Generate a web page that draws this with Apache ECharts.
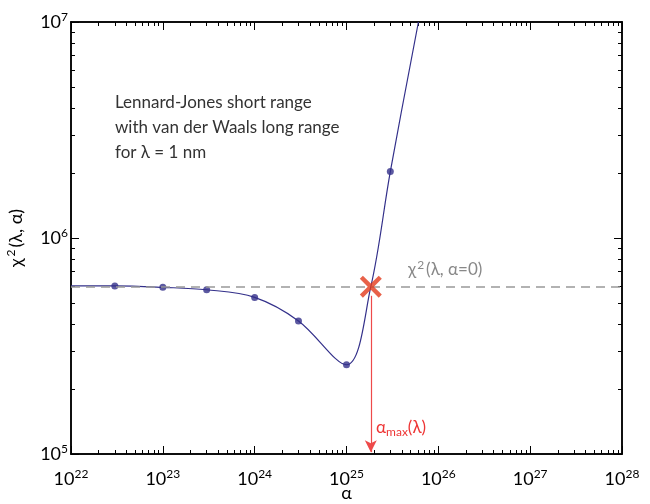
<!DOCTYPE html>
<html>
<head>
<meta charset="utf-8">
<script src="https://cdn.jsdelivr.net/npm/echarts@6/dist/echarts.min.js"></script>
<style>
  html, body { margin: 0; padding: 0; background: #fff; }
  #chart { width: 650px; height: 504px; }
</style>
</head>
<body>
<div id="chart"></div>
<script>
// measured points
const alphaPts = [3e22, 1e23, 3e23, 1e24, 3e24, 1e25, 3e25]
const chi2Pts = [6.0e5, 5.91e5, 5.76e5, 5.31e5, 4.13e5, 2.59e5, 2.03e6]
// fitted curve
const curveAlpha = [1e22, 3e22, 1e23, 3e23, 1e24, 3e24, 1e25, 1.84e25, 3e25, 6.07e25]
const curveChi2 = [6.0e5, 6.0e5, 5.91e5, 5.76e5, 5.31e5, 4.13e5, 2.59e5, 5.95e5, 2.03e6, 1e7]
// reference level and limit
const chi2Zero = 5.95e5
const alphaMax = 1.84e25

// decades of the axes
const xDecades = [22, 23, 24, 25, 26, 27]
const yDecades = [5, 6]

// minor ticks 2..9 inside every decade
function minorTicks(decades) {
  let out = []
  decades.forEach(e => {
    for (let m = 2; m <= 9; m++) out.push(m * Math.pow(10, e))
  })
  return out
}

const FONT = 'Lato'
const navy = '#33308a'
const expLabel = v => '10{sup|' + Math.round(Math.log10(v)) + '}'
const tickRich = {
  sup: { fontSize: 12, fontFamily: FONT, color: '#000', verticalAlign: 'bottom', padding: [0, 0, 10, 0] }
}

function axisBase(extra) {
  return Object.assign({
    type: 'log',
    logBase: 10,
    axisLine: { show: true, onZero: false, lineStyle: { color: '#000', width: 1.5 } },
    axisTick: { show: true, inside: true, length: 8, lineStyle: { color: '#000', width: 1 } },
    minorTick: { show: false },
    splitLine: { show: false },
    minorSplitLine: { show: false }
  }, extra)
}

// overlay axis carrying only the short minor ticks
function minorAxis(extra, ticks) {
  return axisBase(Object.assign({
    axisLabel: { show: false },
    axisTick: { show: true, inside: true, length: 4, customValues: ticks, lineStyle: { color: '#000', width: 1 } }
  }, extra))
}

const chart = echarts.init(document.getElementById('chart'))
chart.setOption({
  animation: false,
  grid: { left: 71, right: 28, top: 22, bottom: 50, outerBoundsMode: 'none', containLabel: false },
  xAxis: [
    axisBase({
      min: 1e22, max: 1e28,
      name: 'α', nameLocation: 'middle', nameGap: 30, nameMoveOverlap: false,
      nameTextStyle: { fontSize: 18, fontFamily: FONT, color: '#000' },
      axisLabel: { margin: 14, fontSize: 18, fontFamily: FONT, color: '#000', formatter: expLabel, rich: tickRich }
    }),
    axisBase({ min: 1e22, max: 1e28, position: 'top', axisLabel: { show: false } }),
    minorAxis({ min: 1e22, max: 1e28, position: 'bottom' }, minorTicks(xDecades)),
    minorAxis({ min: 1e22, max: 1e28, position: 'top' }, minorTicks(xDecades))
  ],
  yAxis: [
    axisBase({
      min: 1e5, max: 1e7,
      name: 'χ{s|2}(λ, α)', nameLocation: 'middle', nameGap: 44, nameMoveOverlap: false,
      nameTextStyle: {
        fontSize: 18, fontFamily: FONT, color: '#000',
        rich: { s: { fontSize: 12, fontFamily: FONT, color: '#000', verticalAlign: 'bottom', padding: [0, 2, 10, 2] } }
      },
      axisLabel: { margin: 3, fontSize: 18, fontFamily: FONT, color: '#000', formatter: expLabel, rich: tickRich }
    }),
    axisBase({ min: 1e5, max: 1e7, position: 'right', axisLabel: { show: false } }),
    minorAxis({ min: 1e5, max: 1e7, position: 'left' }, minorTicks(yDecades)),
    minorAxis({ min: 1e5, max: 1e7, position: 'right' }, minorTicks(yDecades))
  ],
  series: [
    {
      type: 'line',
      data: curveAlpha.map((a, i) => [a, curveChi2[i]]),
      smooth: 0.35,
      showSymbol: false,
      symbol: 'none',
      lineStyle: { color: navy, width: 1.2 },
      z: 3,
      markLine: {
        silent: true,
        symbol: 'none',
        label: { show: false },
        lineStyle: { color: '#999', type: [9, 6], width: 1.5 },
        data: [{ yAxis: chi2Zero }]
      }
    },
    {
      type: 'scatter',
      data: alphaPts.map((a, i) => [a, chi2Pts[i]]),
      symbolSize: 7,
      itemStyle: { color: navy },
      z: 4
    },
    {
      type: 'scatter',
      data: [[alphaMax, chi2Zero]],
      symbol: 'path://M0,1.4L1.4,0L5,3.6L8.6,0L10,1.4L6.4,5L10,8.6L8.6,10L5,6.4L1.4,10L0,8.6L3.6,5Z',
      symbolSize: 22,
      itemStyle: { color: '#e2391c' },
      z: 5,
      markLine: {
        silent: true,
        symbol: ['none', 'arrow'],
        symbolSize: [9, 12],
        label: { show: false },
        lineStyle: { color: '#ee4a4a', type: 'solid', width: 1.2 },
        data: [[{ coord: [alphaMax, 5.4e5] }, { coord: [alphaMax, 1.02e5] }]]
      }
    }
  ],
  graphic: [
    {
      type: 'text', left: 115, top: 90,
      style: {
        text: 'Lennard-Jones short range\nwith van der Waals long range\nfor λ = 1 nm',
        font: '17px Lato', fill: '#333', lineHeight: 25
      }
    },
    {
      type: 'text', left: 408, top: 259,
      style: {
        text: 'χ{s|2}(λ, α=0)',
        font: '17px Lato', fill: '#888',
        rich: { s: { fontSize: 12, fontFamily: FONT, fill: '#888', verticalAlign: 'bottom', padding: [0, 2, 10, 1] } }
      }
    },
    {
      type: 'text', left: 376, top: 419,
      style: {
        text: 'α{sub|max}(λ)',
        font: '17px Lato', fill: '#ee3535',
        rich: { sub: { fontSize: 12, fontFamily: FONT, fill: '#ee3535', verticalAlign: 'top', padding: [9, 0, 0, 0] } }
      }
    }
  ]
})
</script>
</body>
</html>
